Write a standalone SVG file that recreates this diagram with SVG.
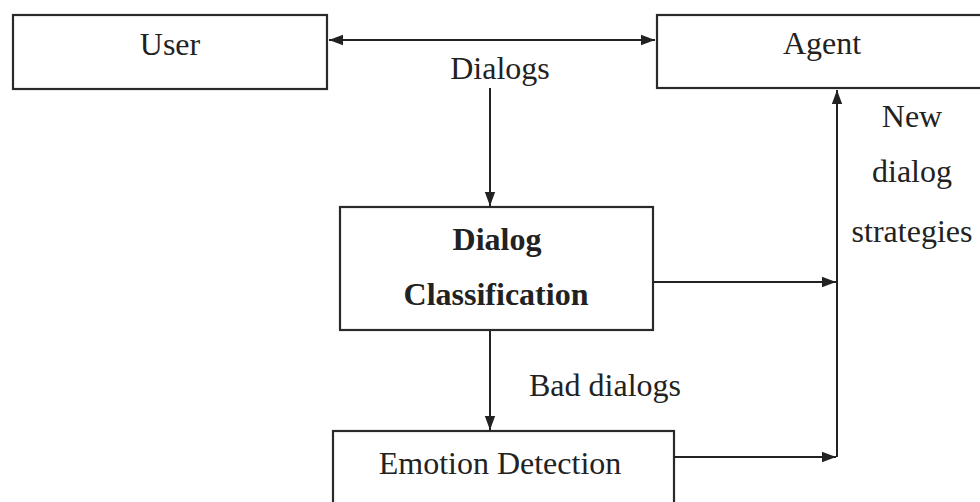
<svg xmlns="http://www.w3.org/2000/svg" width="980" height="502" viewBox="0 0 980 502">
  <style>
    .box { fill: #ffffff; stroke: #2a2a2a; stroke-width: 2.2; }
    .lbl { font-family: "Liberation Serif", "Times New Roman", serif; font-size: 32px; fill: #222; text-anchor: middle; }
    .bold { font-weight: bold; }
    .wire { stroke: #222; stroke-width: 2; fill: none; }
  </style>
  <defs>
    <marker id="arrow" viewBox="0 0 10 10" refX="10" refY="5" markerWidth="7" markerHeight="7" orient="auto-start-reverse" markerUnits="strokeWidth">
      <path d="M0,1.3 L10,5 L0,8.7 z" fill="#222"/>
    </marker>
  </defs>
  <rect width="980" height="502" fill="#ffffff"/>

  <g id="user">
    <rect class="box" x="13" y="15" width="314" height="74"/>
    <text class="lbl" x="170" y="55">User</text>
  </g>

  <g id="agent">
    <rect class="box" x="657" y="15" width="340" height="73"/>
    <text class="lbl" x="822" y="54">Agent</text>
  </g>

  <g id="classification">
    <rect class="box" x="340" y="207" width="313" height="123"/>
    <text class="lbl bold" x="497" y="250">Dialog</text>
    <text class="lbl bold" x="496" y="305">Classification</text>
  </g>

  <g id="emotion">
    <rect class="box" x="333" y="431" width="341" height="80"/>
    <text class="lbl" x="500" y="474">Emotion Detection</text>
  </g>

  <g id="connectors">
    <!-- user <-> agent dialog exchange -->
    <line class="wire" x1="329" y1="40" x2="655" y2="40" marker-start="url(#arrow)" marker-end="url(#arrow)"/>
    <text class="lbl" x="500" y="79">Dialogs</text>
    <!-- dialogs into classification -->
    <line class="wire" x1="490" y1="88" x2="490" y2="206" marker-end="url(#arrow)"/>
    <!-- bad dialogs into emotion detection -->
    <line class="wire" x1="490" y1="331" x2="490" y2="430" marker-end="url(#arrow)"/>
    <text class="lbl" x="605" y="396">Bad dialogs</text>
    <!-- outputs feeding the strategy bus -->
    <line class="wire" x1="653" y1="282" x2="836" y2="282" marker-end="url(#arrow)"/>
    <line class="wire" x1="674" y1="457" x2="836" y2="457" marker-end="url(#arrow)"/>
    <!-- strategy bus up to agent -->
    <line class="wire" x1="837" y1="457" x2="837" y2="90" marker-end="url(#arrow)"/>
    <text class="lbl" x="912" y="127">New</text>
    <text class="lbl" x="912" y="182">dialog</text>
    <text class="lbl" x="912" y="242">strategies</text>
  </g>
</svg>
